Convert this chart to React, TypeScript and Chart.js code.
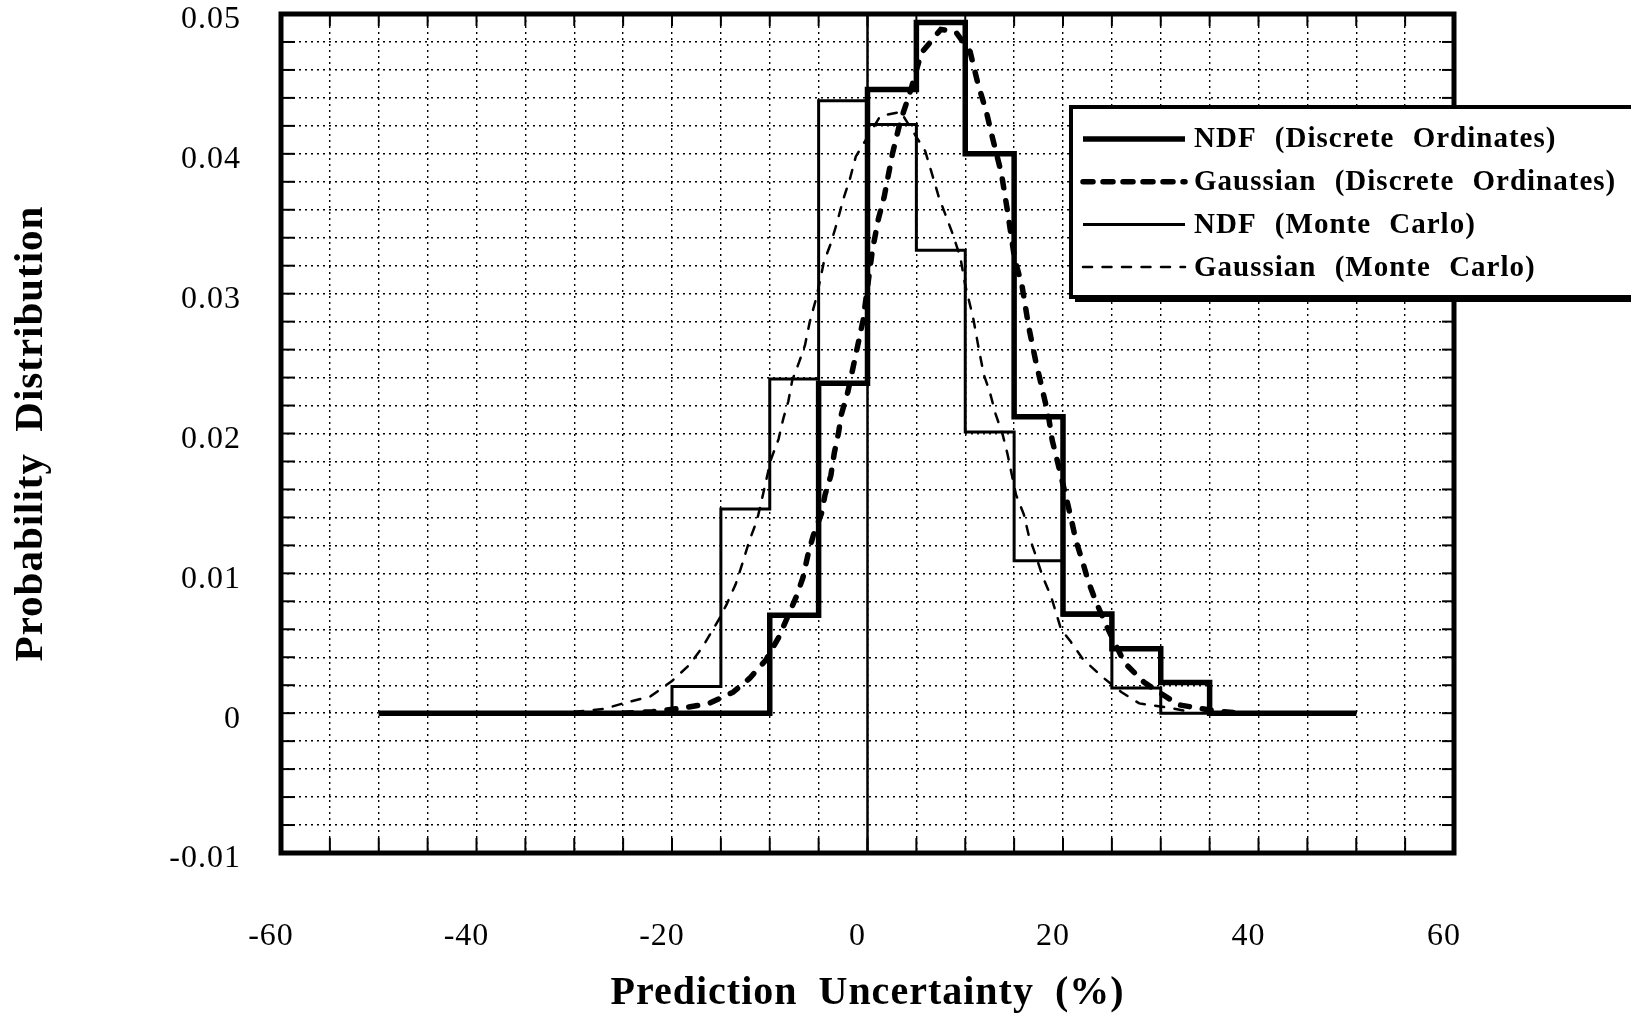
import React, { useEffect, useRef } from "react";
import { Chart, registerables } from "chart.js";

Chart.register(...registerables);

// ---------------- data ----------------
const binEdges = [-50, -45, -40, -35, -30, -25, -20, -15, -10, -5, 0, 5, 10, 15, 20, 25, 30, 35, 40, 45, 50];

const ndfDiscreteOrdinates = [0, 0, 0, 0, 0, 0, 0, 0, 0.0070, 0.0236, 0.0446, 0.0494, 0.0400, 0.0212, 0.0071, 0.0046, 0.0022, 0, 0, 0];
const ndfMonteCarlo = [0, 0, 0, 0, 0, 0, 0.0019, 0.0146, 0.0239, 0.0438, 0.0421, 0.0331, 0.0201, 0.0109, 0.0070, 0.0018, 0, 0, 0, 0];

const gaussianDiscreteX = [-25, -22, -18.6, -16.2, -13.75, -12.05, -10.4, -9.1, -8.1, -7.3, -6.6, -6.1, -5.55, -4.7, -4.35, -3.75, -3.4, -2.95, -2.7, -2.0, -0.45, 0.5, 1.1, 1.7, 2.55, 3.35, 4.4, 5.5, 7.5, 9.05, 10.5, 11.3, 12.2, 12.8, 13.7, 14.3, 15.05, 15.8, 16.5, 17.2, 17.9, 18.5, 18.9, 19.4, 20.4, 20.9, 21.3, 22.1, 22.6, 23.3, 24.4, 26.3, 28.3, 31.8, 35.2, 38];
const gaussianDiscreteY = [0, 0.0001, 0.0004, 0.0007, 0.0015, 0.0025, 0.0038, 0.0054, 0.0070, 0.0083, 0.0097, 0.0113, 0.0127, 0.0143, 0.0156, 0.0170, 0.0186, 0.0201, 0.0213, 0.0230, 0.0281, 0.0331, 0.0353, 0.0369, 0.0400, 0.0423, 0.0445, 0.0472, 0.0489, 0.0487, 0.0473, 0.0450, 0.0429, 0.0411, 0.0386, 0.0360, 0.0325, 0.0306, 0.0276, 0.0252, 0.0231, 0.0213, 0.0195, 0.0181, 0.0152, 0.0137, 0.0124, 0.0106, 0.0094, 0.0081, 0.0063, 0.0036, 0.0022, 0.0006, 0.0002, 0];

const gaussianMonteCarloX = [-30, -27, -25, -22.2, -20, -18.3, -16.9, -15.2, -14.4, -13.5, -12.8, -12.1, -11.3, -10.8, -9.9, -9.1, -8.6, -8.1, -7.7, -7.0, -6.4, -5.9, -5.2, -4.45, -3.8, -3.15, -2.5, -1.8, -1.2, 1.3, 3.4, 5.9, 6.5, 7.3, 8.0, 8.7, 9.5, 10.0, 10.8, 11.4, 11.9, 12.5, 13.1, 13.8, 14.3, 15.2, 16.0, 16.5, 17.2, 17.9, 18.8, 19.8, 20.8, 22.0, 24.0, 26.0, 27.8, 30.7, 33.0];
const gaussianMonteCarloY = [0.0001, 0.0003, 0.0007, 0.0012, 0.0023, 0.0034, 0.0047, 0.0067, 0.0078, 0.0092, 0.0107, 0.0123, 0.0138, 0.0153, 0.0181, 0.0196, 0.0211, 0.0223, 0.0238, 0.0251, 0.0263, 0.0280, 0.0298, 0.0323, 0.0335, 0.0350, 0.0367, 0.0382, 0.0398, 0.0427, 0.0430, 0.0402, 0.0388, 0.0369, 0.0356, 0.0343, 0.0326, 0.0306, 0.0283, 0.0260, 0.0242, 0.0230, 0.0214, 0.0200, 0.0186, 0.0156, 0.0142, 0.0127, 0.0113, 0.0098, 0.0083, 0.0060, 0.0051, 0.0039, 0.0026, 0.0015, 0.0007, 0.0004, 0.0001];

const seriesLabels = [
  "NDF (Discrete Ordinates)",
  "Gaussian (Discrete Ordinates)",
  "NDF (Monte Carlo)",
  "Gaussian (Monte Carlo)",
];

const xTickLabels = [-60, -40, -20, 0, 20, 40, 60];
const yTickLabels = [-0.01, 0, 0.01, 0.02, 0.03, 0.04, 0.05];
const xAxisTitle = "Prediction Uncertainty (%)";
const yAxisTitle = "Probability Distribution";

// ---------------- helpers ----------------
const FONT = "'Liberation Serif', 'Times New Roman', Times, serif";

// each bin value is held from its left edge to the next edge
const stepPoints = (edges: number[], values: number[]) =>
  edges.map((x, i) => ({ x, y: i < values.length ? values[i] : values[values.length - 1] }));

const curvePoints = (xs: number[], ys: number[]) => xs.map((x, i) => ({ x, y: ys[i] }));

// text spacing to imitate the wide spacing of the scanned lettering
const spacingPlugin = {
  id: "textSpacing",
  beforeDraw(chart: any) {
    const c: any = chart.ctx;
    c.letterSpacing = "1px";
    c.wordSpacing = "10px";
  },
};

// vertical x = 0 axis line
const zeroLinePlugin = {
  id: "zeroLine",
  beforeDatasetsDraw(chart: any) {
    const { ctx, chartArea: a, scales } = chart;
    const x = scales.x.getPixelForValue(0);
    ctx.save();
    ctx.strokeStyle = "#000";
    ctx.lineWidth = 2.5;
    ctx.setLineDash([]);
    ctx.beginPath();
    ctx.moveTo(x, a.top);
    ctx.lineTo(x, a.bottom);
    ctx.stroke();
    ctx.restore();
  },
};

// frame with inward tick marks
const framePlugin = {
  id: "frame",
  afterDatasetsDraw(chart: any) {
    const { ctx, chartArea: a, scales } = chart;
    ctx.save();
    ctx.strokeStyle = "#000";
    ctx.setLineDash([]);
    ctx.lineWidth = 2;
    const seg = (x1: number, y1: number, x2: number, y2: number) => {
      ctx.beginPath();
      ctx.moveTo(x1, y1);
      ctx.lineTo(x2, y2);
      ctx.stroke();
    };
    scales.x.ticks.forEach((t: any) => {
      const px = scales.x.getPixelForValue(t.value);
      if (px <= a.left + 2 || px >= a.right - 2) return;
      seg(px, a.bottom, px, a.bottom - 15);
      seg(px, a.top, px, a.top + 12);
    });
    scales.y.ticks.forEach((t: any) => {
      const py = scales.y.getPixelForValue(t.value);
      if (py <= a.top + 2 || py >= a.bottom - 2) return;
      seg(a.left, py, a.left + 14, py);
      seg(a.right, py, a.right - 12, py);
    });
    ctx.lineWidth = 5;
    ctx.lineJoin = "miter";
    ctx.strokeRect(a.left, a.top, a.right - a.left, a.bottom - a.top);
    ctx.restore();
  },
};

// boxed legend with shadow, partly running off the right edge
const legendPlugin = {
  id: "boxLegend",
  afterDraw(chart: any) {
    const { ctx } = chart;
    const bx = 1071, by = 107, bw = 640, bh = 190;
    ctx.save();
    ctx.setLineDash([]);
    ctx.fillStyle = "#000";
    ctx.fillRect(bx + 4, by + 5, bw, bh);
    ctx.fillStyle = "#fff";
    ctx.fillRect(bx, by, bw, bh);
    ctx.strokeStyle = "#000";
    ctx.lineWidth = 4;
    ctx.strokeRect(bx, by, bw, bh);
    (chart.data.datasets as any[]).forEach((ds, i) => {
      const y = 139 + i * 42.7;
      ctx.save();
      ctx.strokeStyle = "#000";
      ctx.lineWidth = ds.borderWidth;
      ctx.lineCap = ds.borderCapStyle || "butt";
      ctx.setLineDash(ds.legendDash || ds.borderDash || []);
      ctx.beginPath();
      ctx.moveTo(1083, y);
      ctx.lineTo(1185, y);
      ctx.stroke();
      ctx.restore();
      ctx.fillStyle = "#000";
      ctx.font = `bold 29px ${FONT}`;
      ctx.textAlign = "left";
      ctx.textBaseline = "middle";
      ctx.fillText(ds.label, 1194, y + 1);
    });
    ctx.restore();
  },
};

export default function App() {
  const canvasRef = useRef<HTMLCanvasElement | null>(null);

  useEffect(() => {
    const canvas = canvasRef.current;
    if (!canvas) return;
    Chart.defaults.font.family = FONT;
    Chart.defaults.color = "#000";

    const gridCommon = {
      color: "#000",
      lineWidth: 1.4,
      drawTicks: false,
    };

    const chart = new Chart(canvas, {
      type: "line",
      data: {
        datasets: [
          {
            label: seriesLabels[0],
            data: stepPoints(binEdges, ndfDiscreteOrdinates),
            stepped: "before",
            borderColor: "#000",
            borderWidth: 5.5,
            borderJoinStyle: "miter",
            pointRadius: 0,
            fill: false,
          },
          {
            label: seriesLabels[1],
            data: curvePoints(gaussianDiscreteX, gaussianDiscreteY),
            borderColor: "#000",
            borderWidth: 5.5,
            borderDash: [9, 13],
            borderCapStyle: "round",
            legendDash: [10, 10],
            pointRadius: 0,
            tension: 0,
            fill: false,
          } as any,
          {
            label: seriesLabels[2],
            data: stepPoints(binEdges, ndfMonteCarlo),
            stepped: "before",
            borderColor: "#000",
            borderWidth: 3,
            borderJoinStyle: "miter",
            pointRadius: 0,
            fill: false,
          },
          {
            label: seriesLabels[3],
            data: curvePoints(gaussianMonteCarloX, gaussianMonteCarloY),
            borderColor: "#000",
            borderWidth: 2.5,
            borderDash: [9, 10.5],
            borderCapStyle: "round",
            pointRadius: 0,
            tension: 0,
            fill: false,
          },
        ],
      },
      options: {
        responsive: false,
        animation: false,
        events: [],
        devicePixelRatio: 1,
        layout: { padding: { top: 14, right: 177, left: 0, bottom: 0 } },
        plugins: {
          legend: { display: false },
          tooltip: { enabled: false },
        },
        scales: {
          x: {
            type: "linear",
            min: -60,
            max: 60,
            afterFit: (s: any) => {
              s.height = 165;
              s.paddingLeft = 0;
              s.paddingRight = 0;
            },
            ticks: {
              stepSize: 5,
              autoSkip: false,
              maxRotation: 0,
              minRotation: 0,
              padding: 64,
              labelOffset: -10,
              color: "#000",
              font: { size: 32, family: FONT },
              callback: (v: any) => (xTickLabels.includes(Number(v)) ? String(v) : ""),
            },
            grid: gridCommon,
            border: { display: false, dash: [2, 4] },
            title: {
              display: true,
              text: xAxisTitle,
              color: "#000",
              font: { size: 40, weight: "bold", family: FONT },
              padding: { top: 0, bottom: 0 },
            },
          },
          y: {
            type: "linear",
            min: -0.01,
            max: 0.05,
            afterFit: (s: any) => {
              s.width = 281;
              s.paddingTop = 0;
              s.paddingBottom = 0;
            },
            ticks: {
              stepSize: 0.002,
              autoSkip: false,
              padding: 40,
              labelOffset: 6,
              color: "#000",
              font: { size: 32, family: FONT },
              callback: (v: any) => {
                const n = Number(v);
                return yTickLabels.some((l) => Math.abs(l - n) < 1e-9) ? String(Number(n.toFixed(2))) : "";
              },
            },
            grid: gridCommon,
            border: { display: false, dash: [2, 4] },
            title: {
              display: true,
              text: yAxisTitle,
              color: "#000",
              font: { size: 41, weight: "bold", family: FONT },
              padding: { top: 7, bottom: 0 },
            },
          },
        },
      } as any,
      plugins: [spacingPlugin, zeroLinePlugin, framePlugin, legendPlugin],
    });

    return () => chart.destroy();
  }, []);

  return (
    <div style={{ position: "absolute", left: 0, top: 0, width: 1631, height: 1018, background: "#fff", overflow: "hidden" }}>
      <canvas ref={canvasRef} width={1631} height={1018} style={{ display: "block" }} />
    </div>
  );
}
